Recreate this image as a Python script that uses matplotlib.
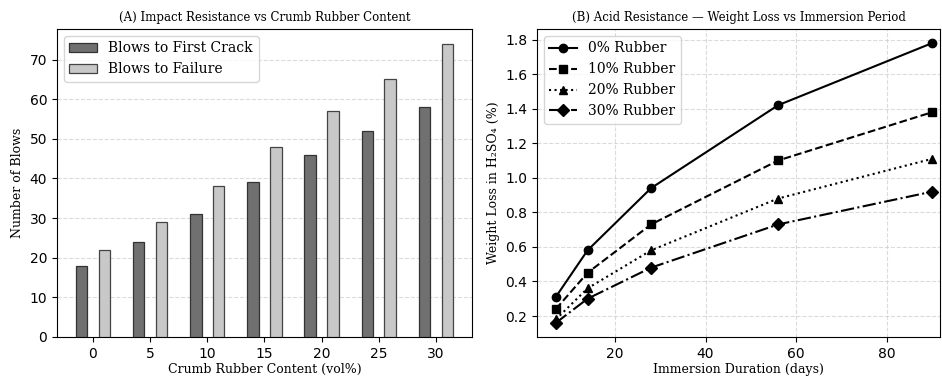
import matplotlib
matplotlib.use("Agg")
import matplotlib.pyplot as plt
import numpy as np

# Panel A data
rubber_content = [0, 5, 10, 15, 20, 25, 30]
blows_first_crack = [18, 24, 31, 39, 46, 52, 58]
blows_failure = [22, 29, 38, 48, 57, 65, 74]

# Panel B data
days = [7, 14, 28, 56, 90]
loss_0 = [0.31, 0.58, 0.94, 1.42, 1.78]
loss_10 = [0.24, 0.45, 0.73, 1.10, 1.38]
loss_20 = [0.18, 0.36, 0.58, 0.88, 1.11]
loss_30 = [0.16, 0.30, 0.48, 0.73, 0.92]
series_labels = ["0% Rubber", "10% Rubber", "20% Rubber", "30% Rubber"]

serif = "DejaVu Serif"

fig = plt.figure(figsize=(9.42, 3.79), dpi=100)
axA = fig.add_axes([0.0605, 0.111, 0.4405, 0.8125])
axB = fig.add_axes([0.570, 0.111, 0.428, 0.8125])

x = np.array(rubber_content, dtype=float)
axA.bar(x - 1, blows_first_crack, width=1.0, color="#707070", edgecolor="#333333",
        linewidth=0.9, label="Blows to First Crack", zorder=3)
axA.bar(x + 1, blows_failure, width=1.0, color="#c8c8c8", edgecolor="#444444",
        linewidth=0.9, label="Blows to Failure", zorder=3)
axA.set_xticks(rubber_content)
axA.set_xticklabels([str(v) for v in rubber_content])
axA.yaxis.grid(True, linestyle="--", color="#cccccc", alpha=0.7, linewidth=0.8, zorder=0)
axA.set_axisbelow(True)
axA.set_title("(A) Impact Resistance vs Crumb Rubber Content", fontsize=8.5, family=serif)
axA.set_xlabel("Crumb Rubber Content (vol%)", fontsize=9, family=serif, labelpad=2)
axA.set_ylabel("Number of Blows", fontsize=9, family=serif)
axA.tick_params(labelsize=10)
axA.legend(loc="upper left", prop={"family": serif, "size": 10})

styles = [("-", "o"), ("--", "s"), (":", "^"), ("-.", "D")]
for vals, lab, (ls, mk) in zip([loss_0, loss_10, loss_20, loss_30], series_labels, styles):
    axB.plot(days, vals, linestyle=ls, marker=mk, color="black", linewidth=1.5,
             markersize=6 if mk != "^" else 5.5, label=lab)
axB.grid(True, linestyle="--", color="#cccccc", alpha=0.7, linewidth=0.8)
axB.set_xlim(2.85, 91.7)
axB.set_xticks([20, 40, 60, 80])
axB.set_title("(B) Acid Resistance — Weight Loss vs Immersion Period", fontsize=8.5, family=serif)
axB.set_xlabel("Immersion Duration (days)", fontsize=9, family=serif, labelpad=2)
axB.set_ylabel("Weight Loss in H₂SO₄ (%)", fontsize=9, family=serif)
axB.tick_params(labelsize=10)
axB.legend(loc="upper left", prop={"family": serif, "size": 10})

fig.savefig("out.png", dpi=100)
